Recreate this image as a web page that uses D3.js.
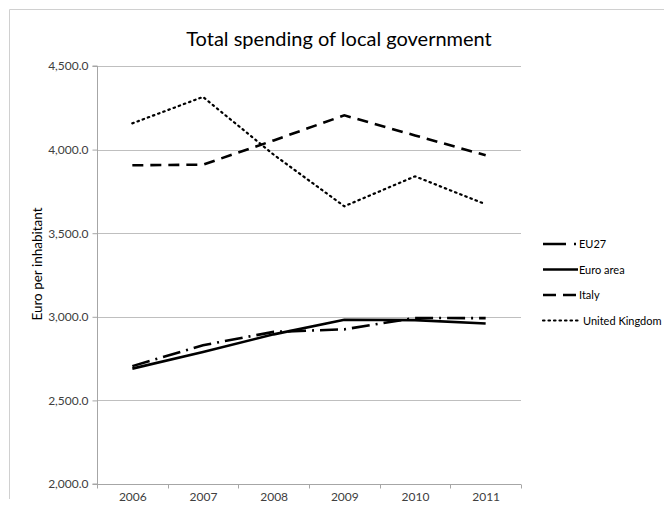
<!DOCTYPE html>
<html>
<head>
<meta charset="utf-8">
<script src="https://cdn.jsdelivr.net/npm/d3@7"></script>
<style>
  body { margin: 0; background: #fff; }
  svg { display: block; font-family: Lato, "Open Sans", sans-serif; }
</style>
</head>
<body>
<svg id="chart" width="664" height="508"></svg>
<script>
const years = ['2006', '2007', '2008', '2009', '2010', '2011'];
const eu27 = [2705, 2830, 2910, 2925, 2993, 2992];
const euroArea = [2690, 2790, 2895, 2982, 2980, 2960];
const italy = [3906, 3910, 4055, 4205, 4085, 3966];
const uk = [4157, 4315, 3970, 3661, 3840, 3673];
const yTicks = [2000, 2500, 3000, 3500, 4000, 4500];

const series = [
  { name: 'EU27', values: eu27, dash: '18,6,2,6' },
  { name: 'Euro area', values: euroArea, dash: null },
  { name: 'Italy', values: italy, dash: '11,7' },
  { name: 'United Kingdom', values: uk, dash: '1.5,4', cap: 'round' },
];

const svg = d3.select('#chart');
const plotLeft = 97, plotRight = 521, plotTop = 66, plotBottom = 484;

const x = d3.scalePoint().domain(years).range([plotLeft, plotRight]).padding(0.5);
const xBand = d3.scaleBand().domain(years).range([plotLeft, plotRight]);
const y = d3.scaleLinear().domain([2000, 4500]).range([plotBottom, plotTop]);

// chart border (left/top edge visible)
svg.append('path')
  .attr('d', 'M9.5,499V9.5H664')
  .attr('fill', 'none')
  .attr('stroke', '#d0d0d0');

svg.append('text')
  .attr('x', 339)
  .attr('y', 46)
  .attr('text-anchor', 'middle')
  .attr('font-size', 20)
  .attr('fill', '#000')
  .text('Total spending of local government');

// gridlines
svg.append('g')
  .selectAll('line')
  .data(yTicks.slice(1))
  .enter().append('line')
  .attr('x1', plotLeft).attr('x2', plotRight)
  .attr('y1', (d) => Math.round(y(d)) + 0.5)
  .attr('y2', (d) => Math.round(y(d)) + 0.5)
  .attr('stroke', '#bfbfbf');

const yAxis = svg.append('g')
  .attr('transform', `translate(${plotLeft + 0.5},0)`)
  .call(d3.axisLeft(y).tickValues(yTicks).tickSize(5).tickPadding(4).tickFormat(d3.format(',.1f')));
yAxis.selectAll('line, path').attr('stroke', '#a6a6a6');
yAxis.select('.domain').attr('d', `M-5,${plotBottom}H0V${plotTop}H-5`);

const xAxis = svg.append('g')
  .attr('transform', `translate(0,${plotBottom + 0.5})`)
  .call(d3.axisBottom(x).tickSize(0).tickPadding(8));
xAxis.selectAll('line, path').attr('stroke', '#a6a6a6');
xAxis.select('.domain').attr('d', `M${plotLeft},0H${plotRight}`);
xAxis.append('g')
  .selectAll('line')
  .data(years.map((d) => xBand(d)).concat([plotRight]))
  .enter().append('line')
  .attr('x1', (d) => Math.round(d) + 0.5).attr('x2', (d) => Math.round(d) + 0.5)
  .attr('y1', 0).attr('y2', 4)
  .attr('stroke', '#a6a6a6');

svg.selectAll('.tick text')
  .style('font-family', 'Lato, sans-serif')
  .style('font-size', '12px')
  .style('fill', '#404040');

svg.append('text')
  .attr('transform', 'translate(42,264) rotate(-90)')
  .attr('text-anchor', 'middle')
  .attr('font-size', 13.5)
  .attr('fill', '#000')
  .text('Euro per inhabitant');

const line = d3.line()
  .x((d, i) => x(years[i]))
  .y((d) => y(d));

svg.append('g')
  .selectAll('path')
  .data(series)
  .enter().append('path')
  .attr('d', (d) => line(d.values))
  .attr('fill', 'none')
  .attr('stroke', '#000')
  .attr('stroke-width', (d) => (d.cap ? 2.2 : 2.6))
  .attr('stroke-linecap', (d) => d.cap || 'butt')
  .attr('stroke-dasharray', (d) => d.dash);

// legend
const legend = svg.append('g')
  .selectAll('g')
  .data(series)
  .enter().append('g')
  .attr('transform', (d, i) => `translate(543,${244 + i * 25.5})`);

legend.append('line')
  .attr('x1', 0).attr('x2', 35)
  .attr('y1', 0).attr('y2', 0)
  .attr('stroke', '#000')
  .attr('stroke-width', (d) => (d.cap ? 2.2 : 2.6))
  .attr('stroke-linecap', (d) => d.cap || 'butt')
  .attr('stroke-dasharray', (d) => (d.name === 'EU27' ? '23,8,2,6' : d.name === 'Italy' ? '13,7' : d.dash));

legend.append('text')
  .attr('x', (d) => (d.cap ? 40 : 36))
  .attr('y', 4)
  .style('font-size', '11px')
  .attr('fill', '#000')
  .text((d) => d.name);
</script>
</body>
</html>
